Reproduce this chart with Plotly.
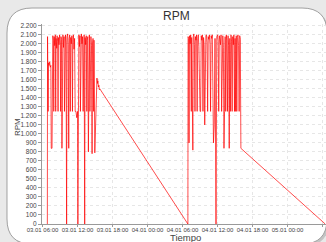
import plotly.graph_objects as go
import pandas as pd

# ---------------- data ----------------
start_time = "2023-01-03 06:00"
minutes_run1 = [50, 52, 58, 62, 68, 74, 80, 86, 90, 98, 102, 106,
                112, 116, 120, 126, 132, 136, 140, 146, 150, 156, 160, 164, 170, 176, 182, 186,
                190, 196, 200, 204, 210, 216, 222, 226, 230, 236, 242, 248, 252, 258, 264, 270,
                274, 280, 286, 290, 296, 302, 308, 312, 318, 324, 330, 336, 344, 352, 360, 364,
                368, 374, 380, 386, 390, 394, 400, 406, 412, 418, 422, 428, 434, 438, 444, 450,
                456, 460, 466, 472, 476, 482, 488, 492, 498, 504, 510, 514, 520, 526, 530, 538,
                546, 556, 560, 565, 570, 575, 580, 585, 590]
rpm_run1 = [0, 2080, 1250, 1790, 1760, 1800, 1740, 1760, 840, 840, 1250, 2090,
            2040, 1250, 2080, 1980, 2100, 1250, 2060, 1950, 2090, 2030, 1250, 2070, 1990, 2100, 2010, 1250,
            2080, 2050, 840, 2060, 2100, 1960, 2080, 1250, 2040, 2100, 2020, 0, 2080, 2110, 1990, 840,
            2060, 2100, 1250, 2070, 2000, 2090, 1250, 2050, 2100, 1940, 2060, 1250, 1250, 1180, 1250, 0,
            2080, 2100, 1970, 2090, 1250, 2060, 2110, 2000, 2080, 1250, 2050, 2100, 0, 2070, 1990, 2090,
            1250, 2040, 2080, 800, 2060, 2100, 1250, 2030, 2080, 1980, 780, 2000, 2060, 1250, 2040, 790,
            1250, 1600, 1620, 1560, 1590, 1520, 1540, 1490, 1500]

minutes_run2 = [1495, 1497, 1502, 1507, 1512, 1518, 1524, 1530, 1534, 1540, 1546, 1550,
                1556, 1562, 1568, 1572, 1578, 1584, 1590, 1596, 1602, 1608, 1614, 1620, 1626, 1632,
                1638, 1644, 1650, 1656, 1662, 1668, 1674, 1680, 1686, 1692, 1698, 1704, 1710, 1716,
                1722, 1728, 1734, 1740, 1746, 1752, 1758, 1766, 1774, 1784, 1792, 1800, 1806, 1812,
                1818, 1824, 1830, 1836, 1842, 1848, 1854, 1860, 1866, 1872, 1878, 1884, 1890, 1896,
                1902, 1908, 1914, 1920, 1926, 1932, 1938, 1944, 1950, 1956, 1962, 1968, 1974, 1980,
                1986, 1992, 1998, 2004, 2010, 2016, 2022, 2028, 2034, 2040, 2907]
rpm_run2 = [0, 2080, 2060, 900, 2090, 2000, 2100, 1250, 2070, 820, 820, 2080,
            2110, 1990, 1250, 2080, 2040, 2100, 1250, 2060, 2100, 1970, 1250, 1250, 1250, 2090,
            2040, 2100, 1250, 2070, 1990, 1100, 2050, 2090, 2100, 2010, 1250, 2080, 2050, 2100,
            1990, 1250, 2090, 2060, 2100, 1300, 900, 1100, 2060, 0, 2080, 2100, 2030, 1250,
            2090, 2050, 1990, 2100, 1250, 2070, 2090, 1960, 840, 1250, 2080, 1250, 2100, 2040,
            1250, 2090, 1980, 840, 2060, 1250, 2100, 2030, 1250, 2080, 1990, 2100, 1250, 2060,
            1250, 2090, 1250, 2070, 2100, 1980, 1250, 2090, 2050, 840, 0]

y_ticks = list(range(0, 2201, 100))

# ---------------- figure ----------------
t0 = pd.Timestamp(start_time)
minutes_all = minutes_run1 + minutes_run2
rpm_all = rpm_run1 + rpm_run2
times = [t0 + pd.Timedelta(minutes=m) for m in minutes_all]

W, H = 326, 242
ml, mr, mt, mb = 42, 0, 24, 18
pw, ph = W - ml - mr, H - mt - mb


def px(x):
    return (x - ml) / pw


def py(y):
    return 1 - (y - mt) / ph


def rounded(x0, y0, x1, y1, r):
    pts = [
        ("M", [(x0 + r, y0)]), ("L", [(x1 - r, y0)]), ("Q", [(x1, y0), (x1, y0 + r)]),
        ("L", [(x1, y1 - r)]), ("Q", [(x1, y1), (x1 - r, y1)]), ("L", [(x0 + r, y1)]),
        ("Q", [(x0, y1), (x0, y1 - r)]), ("L", [(x0, y0 + r)]), ("Q", [(x0, y0), (x0 + r, y0)]),
    ]
    s = ""
    for cmd, ps in pts:
        s += cmd + " ".join(f"{px(a):.5f},{py(b):.5f}" for a, b in ps) + " "
    return s + "Z"


fig = go.Figure()
fig.add_trace(go.Scatter(
    x=times, y=rpm_all, mode="lines",
    line=dict(color="rgba(255,0,0,0.7)", width=1),
    hoverinfo="skip", showlegend=False,
))

grid = dict(showgrid=True, gridcolor="#e6e6e6", griddash="dot", gridwidth=1)
xfont = dict(family="Liberation Sans, Arial, sans-serif", size=6, color="#444")
yfont = dict(family="Liberation Sans, Arial, sans-serif", size=6.5, color="#444")

fig.update_xaxes(
    type="date",
    range=[t0 - pd.Timedelta(minutes=5), t0 + pd.Timedelta(minutes=2915)],
    tick0=t0, dtick=6 * 3600 * 1000, tickformat="%d.%m %H:%M", tickangle=0,
    showline=True, linecolor="#9a9a9a", linewidth=1,
    ticks="outside", ticklen=2, tickcolor="#9a9a9a", ticklabelstandoff=-2,
    tickfont=xfont, zeroline=False, automargin=False, **grid,
)
fig.update_yaxes(
    range=[0, 2220], tickvals=y_ticks, tickformat=",d",
    showline=True, linecolor="#9a9a9a", linewidth=1,
    ticks="outside", ticklen=3, tickcolor="#9a9a9a",
    tickfont=yfont, zeroline=False, automargin=False, **grid,
)

shapes = [
    dict(type="path", xref="paper", yref="paper", layer="below",
         path=rounded(9, 10, 329, 246, 25), fillcolor="#c4c4c4", line=dict(width=0)),
    dict(type="path", xref="paper", yref="paper", layer="below",
         path=rounded(7, 8, 327, 244, 25), fillcolor="white",
         line=dict(color="#a0a0a0", width=1)),
]

annotations = [
    dict(text="RPM", x=px(176), y=py(16), xref="paper", yref="paper",
         showarrow=False, xanchor="center", yanchor="middle",
         font=dict(family="Liberation Sans, Arial, sans-serif", size=12, color="#333")),
    dict(text="Tiempo", x=px(185), y=py(237), xref="paper", yref="paper",
         showarrow=False, xanchor="center", yanchor="middle",
         font=dict(family="Liberation Sans, Arial, sans-serif", size=9.5, color="#444")),
    dict(text="RPM", x=px(17), y=py(127), xref="paper", yref="paper",
         showarrow=False, xanchor="center", yanchor="middle", textangle=-90,
         font=dict(family="Liberation Sans, Arial, sans-serif", size=8, color="#444")),
]

fig.update_layout(
    width=W, height=H,
    margin=dict(l=ml, r=mr, t=mt, b=mb, pad=0, autoexpand=False),
    paper_bgcolor="#e9e9e9", plot_bgcolor="rgba(0,0,0,0)",
    separators=",.",
    shapes=shapes, annotations=annotations,
    showlegend=False,
)

fig.write_html(
    "out.html",
    config={"displayModeBar": False},
    post_script="document.body.style.margin='0';document.body.style.overflow='hidden';",
)
